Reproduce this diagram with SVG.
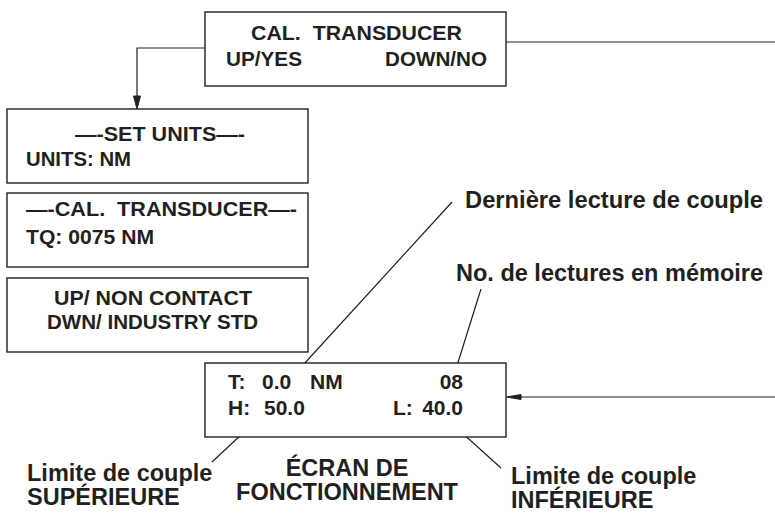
<svg xmlns="http://www.w3.org/2000/svg" width="775" height="514" viewBox="0 0 775 514">
<style>
.box{fill:#fff;stroke:#231f20;stroke-width:1.4}
.t{font-family:"Liberation Sans",Arial,sans-serif;font-weight:bold;font-size:21px;fill:#231f20}
.lb{font-family:"Liberation Sans",Arial,sans-serif;font-weight:bold;font-size:23.5px;fill:#231f20}
.ln{fill:none;stroke:#231f20;stroke-width:1.2}
.ah{fill:#231f20;stroke:#231f20;stroke-width:1}
</style>
<rect width="775" height="514" fill="#fff"/>
<g id="connectors">
<polyline class="ln" points="205,48 137,48 137,97"/>
<polygon class="ah" points="137,109 133.5,96 140.5,96"/>
<line class="ln" x1="506" y1="42" x2="775" y2="42"/>
<line class="ln" x1="520" y1="397" x2="775" y2="397"/>
<polygon class="ah" points="506.5,397 521,394.5 521,399.5"/>
<line class="ln" x1="452" y1="202" x2="293" y2="376"/>
<line class="ln" x1="481" y1="289" x2="455" y2="372"/>
<line class="ln" x1="258" y1="419" x2="212" y2="462"/>
<line class="ln" x1="450" y1="422" x2="501" y2="468"/>
</g>
<g id="node-cal-transducer">
<rect class="box" x="205" y="12" width="301" height="74"/>
<text class="t" x="251" y="40" xml:space="preserve" textLength="211" lengthAdjust="spacingAndGlyphs">CAL.  TRANSDUCER</text>
<text class="t" x="226" y="66" textLength="76" lengthAdjust="spacingAndGlyphs">UP/YES</text>
<text class="t" x="385" y="66" textLength="102" lengthAdjust="spacingAndGlyphs">DOWN/NO</text>
</g>
<g id="node-set-units">
<rect class="box" x="7" y="109" width="301" height="74"/>
<text class="t" x="75" y="141" textLength="170" lengthAdjust="spacingAndGlyphs">—-SET UNITS—-</text>
<text class="t" x="26" y="166" textLength="105" lengthAdjust="spacingAndGlyphs">UNITS: NM</text>
</g>
<g id="node-cal-transducer-2">
<rect class="box" x="7" y="193" width="301" height="74"/>
<text class="t" x="26" y="216" xml:space="preserve" textLength="271" lengthAdjust="spacingAndGlyphs">—-CAL.  TRANSDUCER—-</text>
<text class="t" x="26" y="244" textLength="128" lengthAdjust="spacingAndGlyphs">TQ: 0075 NM</text>
</g>
<g id="node-contact">
<rect class="box" x="7" y="278" width="301" height="74"/>
<text class="t" x="54" y="305" textLength="198" lengthAdjust="spacingAndGlyphs">UP/ NON CONTACT</text>
<text class="t" x="47" y="329" textLength="211" lengthAdjust="spacingAndGlyphs">DWN/ INDUSTRY STD</text>
</g>
<g id="node-run-screen">
<rect class="box" x="205" y="363" width="301" height="74"/>
<text class="t" x="228" y="389">T:</text>
<text class="t" x="262" y="389">0.0</text>
<text class="t" x="310" y="389">NM</text>
<text class="t" x="463" y="389" text-anchor="end">08</text>
<text class="t" x="228" y="415">H:</text>
<text class="t" x="264" y="415">50.0</text>
<text class="t" x="393" y="415">L:</text>
<text class="t" x="463" y="415" text-anchor="end">40.0</text>
</g>
<g id="labels">
<text class="lb" x="465" y="208" textLength="298" lengthAdjust="spacingAndGlyphs">Dernière lecture de couple</text>
<text class="lb" x="456" y="281" textLength="307" lengthAdjust="spacingAndGlyphs">No. de lectures en mémoire</text>
<text class="lb" x="27" y="481">Limite de couple</text>
<text class="lb" x="27" y="505">SUPÉRIEURE</text>
<text class="lb" x="347" y="476" text-anchor="middle">ÉCRAN DE</text>
<text class="lb" x="347" y="500" text-anchor="middle">FONCTIONNEMENT</text>
<text class="lb" x="511" y="484">Limite de couple</text>
<text class="lb" x="511" y="508">INFÉRIEURE</text>
</g>
</svg>
